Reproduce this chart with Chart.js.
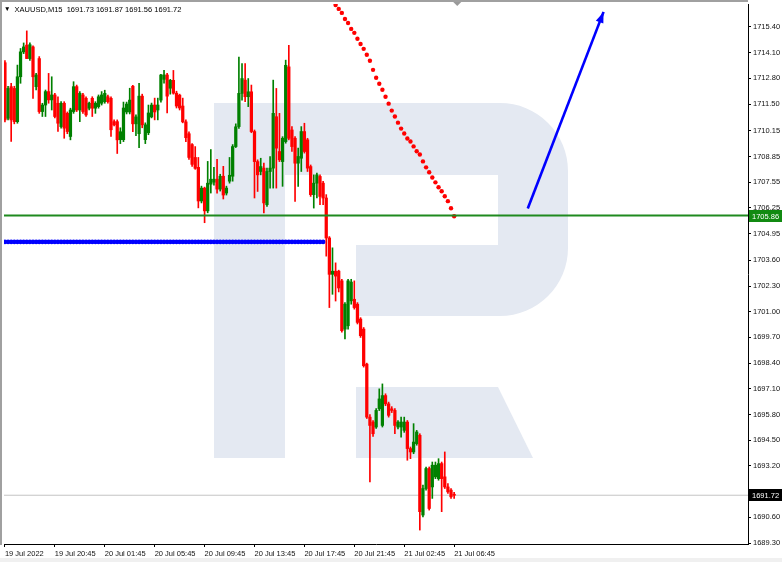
<!DOCTYPE html>
<html>
<head>
<meta charset="utf-8">
<title>XAUUSD M15</title>
<script src="https://cdn.jsdelivr.net/npm/chart.js@4.4.0/dist/chart.umd.min.js"></script>
<style>
  html, body { margin: 0; padding: 0; background: #fff; }
  #wrap { position: relative; width: 782px; height: 562px; overflow: hidden; }
  #header {
    position: absolute; left: 4px; top: 3px;
    font: 7.5px 'Liberation Sans', Arial, sans-serif;
    color: #000; white-space: pre; line-height: 12px;
  }
  #header .tri { font-size: 6.5px; vertical-align: 1px; }
</style>
</head>
<body>
<div id="wrap">
  <canvas id="chart" width="782" height="562"></canvas>
  <div id="header"><span class="tri">▼</span>  XAUUSD,M15  1691.73 1691.87 1691.56 1691.72</div>
</div>
<script>
// M15 candles, index 0 = 19 Jul 16:45
const opens = [
  1713.59,1710.78,1712.38,1712.29,1710.61,1712.88,1714.14,1714.48,1713.80,1714.39,
  1712.38,1713.80,1711.12,1711.45,1712.13,1711.71,1711.96,1711.54,1710.36,1711.54,
  1711.03,1709.86,1711.12,1712.38,1711.20,1711.96,1711.79,1711.29,1711.79,1711.29,
  1711.37,1711.54,1711.62,1711.87,1711.79,1710.61,1710.61,1709.70,1709.70,1711.10,
  1711.10,1712.40,1710.50,1710.00,1711.90,1709.70,1710.05,1710.85,1711.45,1711.20,
  1711.70,1712.75,1712.97,1712.30,1712.70,1712.05,1711.95,1711.40,1710.60,1710.00,
  1709.45,1708.80,1708.30,1706.60,1707.25,1706.10,1707.45,1707.55,1707.70,1707.20,
  1707.85,1707.00,1707.60,1707.85,1709.35,1710.36,1712.04,1712.71,1711.87,1712.12,
  1710.11,1708.59,1708.09,1708.26,1706.41,1708.09,1708.26,1710.86,1709.10,1708.59,
  1709.60,1713.38,1710.19,1709.77,1708.51,1708.76,1710.11,1709.69,1708.34,1706.92,
  1707.50,1707.84,1707.50,1706.75,1704.73,1702.89,1703.05,1703.05,1702.56,1700.12,
  1700.29,1701.55,1701.63,1701.38,1700.63,1700.12,1698.35,1695.67,1695.42,1695.17,
  1696.09,1695.25,1696.76,1696.34,1696.09,1696.01,1695.17,1695.17,1695.00,1695.42,
  1694.08,1693.91,1694.33,1694.75,1690.72,1692.06,1693.07,1692.14,1692.65,1692.56,
  1693.32,1692.65,1692.14,1691.98,1691.73
];
const highs = [
  1713.70,1712.40,1712.55,1712.40,1713.47,1714.31,1714.59,1715.20,1714.60,1714.45,
  1713.05,1713.90,1711.54,1712.21,1713.05,1712.88,1712.04,1711.87,1711.62,1711.62,
  1711.10,1711.29,1712.63,1712.46,1712.13,1712.04,1711.87,1711.60,1711.87,1711.62,
  1711.96,1712.13,1712.20,1711.96,1711.87,1710.70,1710.70,1710.30,1711.60,1711.60,
  1712.30,1712.45,1710.95,1712.55,1712.00,1710.55,1711.45,1711.55,1711.80,1711.80,
  1713.00,1713.20,1713.05,1712.75,1713.20,1712.15,1712.00,1711.80,1710.70,1710.10,
  1709.50,1709.35,1708.80,1707.35,1707.30,1708.60,1709.20,1708.30,1708.70,1707.95,
  1708.35,1707.35,1708.80,1709.45,1710.50,1713.88,1713.55,1713.55,1712.79,1712.46,
  1710.19,1708.68,1708.76,1708.51,1708.26,1708.85,1712.71,1712.29,1711.03,1709.85,
  1713.72,1714.47,1710.36,1709.85,1709.27,1710.36,1710.53,1709.77,1708.42,1707.92,
  1708.01,1707.92,1707.59,1706.92,1704.80,1704.23,1703.47,1703.10,1702.64,1701.46,
  1702.64,1702.64,1702.56,1701.46,1700.70,1700.20,1698.40,1695.80,1695.50,1696.10,
  1697.10,1697.35,1696.85,1696.43,1696.20,1696.10,1695.50,1695.67,1695.67,1695.50,
  1694.16,1695.34,1695.00,1694.83,1692.23,1693.15,1693.15,1693.40,1693.40,1693.57,
  1693.40,1693.91,1692.31,1692.06,1691.87
];
const lows = [
  1710.60,1710.70,1709.61,1710.50,1710.53,1712.55,1714.05,1713.80,1713.70,1711.79,
  1712.21,1711.03,1710.87,1710.87,1711.54,1711.20,1710.80,1710.11,1710.28,1709.77,
  1710.00,1709.69,1711.03,1711.12,1710.61,1711.03,1710.87,1711.20,1710.87,1711.03,
  1711.29,1711.45,1711.54,1711.54,1709.86,1710.40,1709.00,1709.50,1709.60,1711.00,
  1711.00,1710.10,1709.90,1709.30,1710.30,1709.50,1709.95,1710.80,1710.70,1710.70,
  1711.60,1712.55,1711.05,1712.00,1712.00,1711.30,1711.20,1710.55,1709.60,1708.70,
  1708.35,1708.20,1706.25,1706.50,1705.50,1706.00,1707.00,1707.40,1707.00,1707.10,
  1706.70,1706.90,1707.50,1707.60,1709.30,1710.27,1711.70,1711.62,1711.37,1710.05,
  1706.75,1707.08,1707.92,1705.99,1706.33,1707.25,1707.25,1707.25,1708.59,1707.34,
  1709.52,1709.69,1709.10,1706.58,1707.34,1708.09,1709.02,1708.09,1706.83,1706.24,
  1706.75,1706.41,1706.41,1703.81,1701.21,1701.88,1701.54,1702.00,1699.96,1699.62,
  1700.12,1701.38,1701.13,1700.38,1699.70,1698.20,1695.60,1692.40,1694.70,1695.10,
  1696.00,1695.17,1696.25,1695.67,1695.90,1694.83,1695.08,1694.66,1694.90,1693.49,
  1693.57,1693.82,1694.25,1689.96,1690.63,1691.98,1690.97,1691.56,1692.56,1692.48,
  1690.89,1692.06,1691.81,1691.56,1691.56
];
const closes = [
  1710.70,1712.29,1710.70,1710.61,1712.88,1714.14,1714.39,1713.80,1714.50,1712.88,
  1712.97,1711.12,1711.45,1712.13,1711.71,1711.96,1710.87,1710.53,1711.54,1710.28,
  1710.11,1711.20,1712.38,1711.20,1712.04,1711.12,1710.95,1711.54,1711.29,1711.54,
  1711.87,1711.96,1712.04,1711.62,1710.20,1710.45,1709.69,1710.10,1711.30,1711.50,
  1711.70,1710.50,1710.85,1711.90,1710.45,1710.45,1711.05,1711.45,1711.10,1711.45,
  1712.97,1712.97,1711.90,1712.70,1712.05,1711.40,1711.30,1710.60,1709.80,1708.80,
  1708.45,1708.25,1706.60,1707.25,1706.10,1707.50,1707.70,1707.70,1707.20,1707.85,
  1706.90,1707.25,1707.90,1709.35,1710.35,1712.04,1712.79,1711.87,1712.12,1710.11,
  1708.59,1707.92,1708.34,1706.50,1708.09,1708.26,1711.03,1709.27,1708.68,1709.77,
  1713.46,1709.77,1709.35,1708.51,1708.85,1710.11,1709.10,1708.26,1706.92,1707.50,
  1707.92,1706.83,1706.75,1704.73,1702.89,1703.05,1702.80,1702.20,1700.04,1701.38,
  1702.56,1702.50,1701.21,1700.46,1699.79,1698.27,1695.67,1695.25,1694.83,1696.01,
  1696.59,1696.76,1696.34,1695.76,1696.01,1695.25,1695.42,1695.42,1695.42,1694.08,
  1693.91,1694.41,1694.92,1690.89,1692.06,1693.07,1691.05,1693.24,1693.24,1693.32,
  1692.56,1692.14,1691.89,1691.64,1691.72
];

// time axis labels, one every 16 bars
const timeIdx = [0, 16, 32, 48, 64, 80, 96, 112, 128, 144];
const timeLabels = ['19 Jul 2022', '19 Jul 20:45', '20 Jul 01:45', '20 Jul 05:45', '20 Jul 09:45',
  '20 Jul 13:45', '20 Jul 17:45', '20 Jul 21:45', '21 Jul 02:45', '21 Jul 06:45'];

// price axis
const yTickLabels = ['1715.40','1714.10','1712.80','1711.50','1710.15','1708.85','1707.55','1706.25',
  '1704.95','1703.60','1702.30','1701.00','1699.70','1698.40','1697.10','1695.80','1694.50',
  '1693.20','1691.90','1690.60','1689.30'];
const yMin = 1689.255, yMax = 1716.559;
const xMin = -0.3, xMax = 238.2;

// levels and drawings
const resistLevel = 1705.86;
const lastPrice = 1691.72;
const blueLevel = 1704.53, blueFrom = 0, blueTo = 102;
const redStart = 106;
const redDots = [1716.51,1716.31,1716.11,1715.80,1715.60,1715.30,1715.10,1714.80,1714.54,1714.29,
  1713.99,1713.69,1713.23,1712.83,1712.53,1712.22,1711.87,1711.52,1711.17,1710.87,
  1710.56,1710.26,1710.01,1709.76,1709.61,1709.36,1709.11,1708.95,1708.60,1708.30,
  1708.05,1707.79,1707.54,1707.29,1707.09,1706.84,1706.59,1706.23,1705.83];
const arrowFrom = { x: 167.6, y: 1706.22 };
const arrowTo = { x: 191.9, y: 1716.16 };

const UP = '#008000', DOWN = '#ff0000';
const FONT = "'Liberation Sans', Arial, sans-serif";
const FONT_SIZE = 7.5;

const candleColors = opens.map((o, i) => closes[i] >= o ? UP : DOWN);
const wickData = lows.map((l, i) => ({ x: i, y: [l, highs[i]] }));
const bodyData = opens.map((o, i) => ({ x: i, y: [o, closes[i]] }));

const bluePoints = [];
for (let i = blueFrom; i <= blueTo; i++) bluePoints.push({ x: i, y: blueLevel });
const redPoints = redDots.map((v, i) => ({ x: redStart + i, y: v }));

const chartDecor = {
  id: 'chartDecor',
  beforeDraw(chart) {
    const ctx = chart.ctx;
    ctx.save();
    ctx.fillStyle = '#fff';
    ctx.fillRect(0, 0, chart.width, chart.height);
    ctx.fillStyle = '#f0f0f0';
    ctx.fillRect(0, 558, chart.width, 4);
    ctx.restore();
  },
  beforeDatasetsDraw(chart) {
    // broker watermark
    const ctx = chart.ctx;
    ctx.save();
    ctx.fillStyle = '#e4e9f2';
    ctx.fillRect(214, 103, 71, 355);
    ctx.beginPath();
    ctx.moveTo(285, 103);
    ctx.lineTo(500, 103);
    ctx.arcTo(568, 103, 568, 171, 68);
    ctx.lineTo(568, 248);
    ctx.arcTo(568, 316, 500, 316, 68);
    ctx.lineTo(356, 316);
    ctx.lineTo(356, 245);
    ctx.lineTo(498, 245);
    ctx.lineTo(498, 175);
    ctx.lineTo(285, 175);
    ctx.closePath();
    ctx.fill();
    ctx.beginPath();
    ctx.moveTo(356, 387);
    ctx.lineTo(498, 387);
    ctx.lineTo(533, 458);
    ctx.lineTo(356, 458);
    ctx.closePath();
    ctx.fill();
    ctx.restore();
  },
  afterDraw(chart) {
    const ctx = chart.ctx;
    const { right, bottom } = chart.chartArea;
    const xs = chart.scales.x, ys = chart.scales.y;
    ctx.save();
    // frame
    ctx.fillStyle = '#a0a0a0';
    ctx.fillRect(0, 0, right, 2);
    ctx.fillRect(0, 0, 2, bottom + 1);

    // arrow head
    const x1 = xs.getPixelForValue(arrowFrom.x), y1 = ys.getPixelForValue(arrowFrom.y);
    const x2 = xs.getPixelForValue(arrowTo.x), y2 = ys.getPixelForValue(arrowTo.y);
    const a = Math.atan2(y2 - y1, x2 - x1);
    ctx.fillStyle = '#0000ff';
    ctx.beginPath();
    ctx.moveTo(x2, y2);
    ctx.lineTo(x2 - 11 * Math.cos(a) + 4 * Math.sin(a), y2 - 11 * Math.sin(a) - 4 * Math.cos(a));
    ctx.lineTo(x2 - 11 * Math.cos(a) - 4 * Math.sin(a), y2 - 11 * Math.sin(a) + 4 * Math.cos(a));
    ctx.closePath();
    ctx.fill();

    // chart shift marker
    const sx = xs.getPixelForValue(145);
    ctx.fillStyle = '#9a9a9a';
    ctx.beginPath();
    ctx.moveTo(sx - 4, 2);
    ctx.lineTo(sx + 4, 2);
    ctx.lineTo(sx, 6);
    ctx.closePath();
    ctx.fill();

    // price boxes on the axis
    ctx.font = FONT_SIZE + 'px ' + FONT;
    ctx.textBaseline = 'middle';
    [[resistLevel, '#118a11'], [lastPrice, '#000']].forEach(([v, c]) => {
      const y = Math.round(ys.getPixelForValue(v));
      ctx.fillStyle = c;
      ctx.fillRect(right + 1, y - 6, chart.width - right - 1, 12);
      ctx.fillStyle = '#fff';
      ctx.fillText(v.toFixed(2), right + 4, y + 0.5);
    });
    ctx.restore();
  }
};

new Chart(document.getElementById('chart'), {
  type: 'bar',
  data: {
    datasets: [
      {
        label: 'wicks', data: wickData, backgroundColor: candleColors,
        barThickness: 1, grouped: false, order: 3
      },
      {
        label: 'bodies', data: bodyData, backgroundColor: candleColors,
        barThickness: 2.6, minBarLength: 1, grouped: false, order: 2
      },
      {
        type: 'line', label: 'level', order: 1,
        data: [{ x: xMin, y: resistLevel }, { x: xMax, y: resistLevel }],
        borderColor: '#1f8a1f', borderWidth: 2, pointRadius: 0
      },
      {
        type: 'line', label: 'last', order: 4,
        data: [{ x: xMin, y: lastPrice }, { x: xMax, y: lastPrice }],
        borderColor: '#c4c4c4', borderWidth: 1, pointRadius: 0
      },
      {
        type: 'line', label: 'blue', order: 1, showLine: false,
        data: bluePoints, pointRadius: 2.3, pointBorderWidth: 0,
        pointBackgroundColor: '#0000ff'
      },
      {
        type: 'line', label: 'red', order: 1, showLine: false,
        data: redPoints, pointRadius: 2.2, pointBorderWidth: 0,
        pointBackgroundColor: '#ff0000'
      },
      {
        type: 'line', label: 'arrow', order: 1,
        data: [arrowFrom, arrowTo],
        borderColor: '#0000ff', borderWidth: 2.6, pointRadius: 0
      }
    ]
  },
  options: {
    responsive: false,
    maintainAspectRatio: false,
    animation: false,
    events: [],
    layout: { padding: { left: 2, top: 2, right: 0, bottom: 0 } },
    plugins: { legend: { display: false }, tooltip: { enabled: false } },
    scales: {
      x: {
        type: 'linear', min: xMin, max: xMax, offset: false,
        afterBuildTicks: s => { s.ticks = timeIdx.map(v => ({ value: v })); },
        afterFit: s => { s.height = 18; s.paddingLeft = 0; s.paddingRight = 0; },
        ticks: {
          autoSkip: false, maxRotation: 0, align: 'start', padding: 2,
          color: '#111', font: { family: FONT, size: FONT_SIZE },
          callback: (v, i) => timeLabels[i]
        },
        grid: { drawOnChartArea: false, drawTicks: true, tickLength: 3, color: '#000', offset: false },
        border: { display: true, color: '#000', width: 1 }
      },
      y: {
        type: 'linear', position: 'right', min: yMin, max: yMax, beginAtZero: false,
        afterBuildTicks: s => { s.ticks = yTickLabels.map(t => ({ value: parseFloat(t) })); },
        afterFit: s => { s.width = 34; s.paddingTop = 0; s.paddingBottom = 0; },
        ticks: {
          autoSkip: false, padding: 2,
          color: '#111', font: { family: FONT, size: FONT_SIZE },
          callback: (v, i) => yTickLabels[i]
        },
        grid: { drawOnChartArea: false, drawTicks: true, tickLength: 3, color: '#000' },
        border: { display: true, color: '#000', width: 1 }
      }
    }
  },
  plugins: [chartDecor]
});
</script>
</body>
</html>
